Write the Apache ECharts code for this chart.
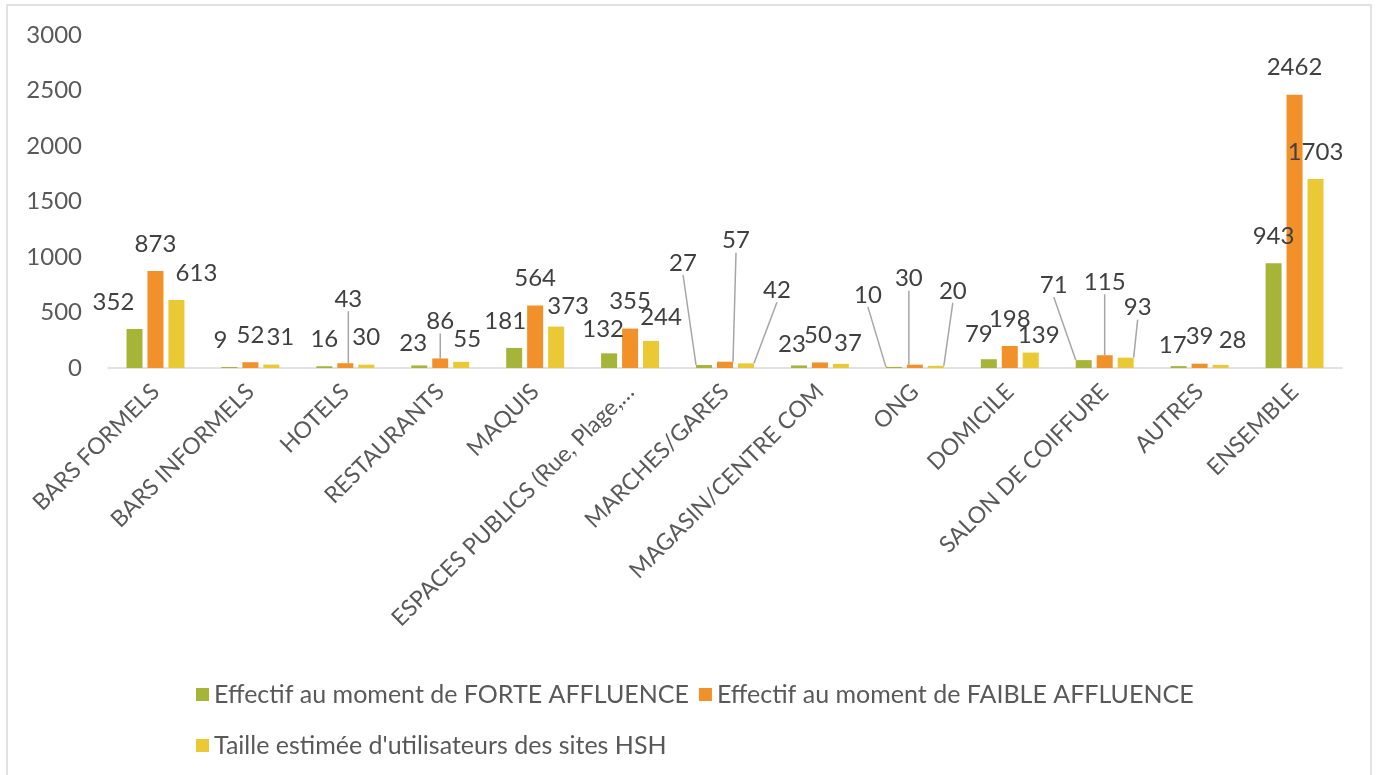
<!DOCTYPE html>
<html>
<head>
<meta charset="utf-8">
<title>Effectifs par site</title>
<script src="https://cdn.jsdelivr.net/npm/echarts@6/dist/echarts.min.js"></script>
<style>
  html, body { margin: 0; padding: 0; background: #fff; }
  #chart { width: 1380px; height: 775px; }
</style>
</head>
<body>
<div id="chart"></div>
<script>
// categories (x axis)
const categories = [
  'BARS FORMELS', 'BARS INFORMELS', 'HOTELS', 'RESTAURANTS', 'MAQUIS',
  'ESPACES PUBLICS (Rue, Plage,…', 'MARCHES/GARES', 'MAGASIN/CENTRE COM',
  'ONG', 'DOMICILE', 'SALON DE COIFFURE', 'AUTRES', 'ENSEMBLE'
]
const seriesNames = [
  'Effectif au moment de FORTE AFFLUENCE',
  'Effectif au moment de FAIBLE AFFLUENCE',
  "Taille estimée d'utilisateurs des sites HSH"
]
const forteData = [352, 9, 16, 23, 181, 132, 27, 23, 10, 79, 71, 17, 943]
const faibleData = [873, 52, 43, 86, 564, 355, 57, 50, 30, 198, 115, 39, 2462]
const tailleData = [613, 31, 30, 55, 373, 244, 42, 37, 20, 139, 93, 28, 1703]
// y axis ticks
const yMin = 0
const yMax = 3000
const yStep = 500

// label nudges (px) copied from the excel layout, some with leader lines
const forteShift = [[-21,0],[-9,0],[0,0],[-6,5],[-9,0],[-6,3],[-21,-75],[-7,6],[-26,-45],[-10,2],[-30,-48],[-6,6],[0,0]]
const faibleShift = [[0,0],[0,0],[3,-37],[0,-10],[0,0],[0,0],[11,-94],[-2,0],[-6,-59],[0,0],[0,-46],[0,0],[0,0]]
const tailleShift = [[20,0],[9,0],[0,0],[6,4],[12,7],[10,3],[31,-46],[7,6],[17,-48],[8,10],[12,-23],[12,2],[0,0]]
const shifts = [forteShift, faibleShift, tailleShift]

const colors = ['#A6B437', '#F2912A', '#EBC934']
const font = 'Lato'

const chart = echarts.init(document.getElementById('chart'))

function buildData (values, shift) {
  return values.map((v, i) => {
    return {
      value: v,
      labelLine: { show: shift[i][1] <= -10 } // 引导线
    }
  })
}

const seriesArr = [forteData, faibleData, tailleData].map((values, idx) => {
  return {
    name: seriesNames[idx],
    type: 'bar',
    barWidth: 16,
    barGap: '31%',
    itemStyle: { color: colors[idx] },
    data: buildData(values, shifts[idx]),
    label: {
      show: true,
      position: 'top',
      distance: 15,
      color: '#404040',
      fontFamily: font,
      fontSize: 24
    },
    labelLine: {
      show: false,
      lineStyle: { color: '#a6a6a6', width: 1.5 }
    },
    labelLayout: function (params) {
      const s = shifts[params.seriesIndex][params.dataIndex]
      return { dx: s[0], dy: s[1] }
    }
  }
})

const legendText = { color: '#595959', fontFamily: font, fontSize: 25 }

const option = {
  backgroundColor: '#fff',
  animation: false,
  graphic: [{
    type: 'rect',
    shape: { x: 7, y: 5, width: 1364, height: 820 },
    style: { fill: null, stroke: '#d9d9d9', lineWidth: 1.5 },
    silent: true,
    z: -1
  }],
  grid: {
    left: 108,
    right: 38,
    top: 35,
    bottom: 407
  },
  legend: [
    {
      data: [seriesNames[0], seriesNames[1]],
      left: 191,
      top: 677,
      icon: 'rect',
      itemWidth: 13,
      itemHeight: 13,
      itemGap: 10,
      textStyle: legendText
    },
    {
      data: [seriesNames[2]],
      left: 191,
      top: 728,
      icon: 'rect',
      itemWidth: 13,
      itemHeight: 13,
      textStyle: legendText
    }
  ],
  xAxis: {
    type: 'category',
    data: categories,
    axisLine: { lineStyle: { color: '#d9d9d9', width: 1.5 } },
    axisTick: { show: false },
    axisLabel: {
      interval: 0,
      rotate: 45,
      margin: 20,
      color: '#595959',
      fontFamily: font,
      fontSize: 23
    }
  },
  yAxis: {
    type: 'value',
    min: yMin,
    max: yMax,
    interval: yStep,
    axisLine: { show: false },
    axisTick: { show: false },
    splitLine: { show: false },
    axisLabel: {
      margin: 26,
      color: '#595959',
      fontFamily: font,
      fontSize: 24,
      formatter: v => String(v)
    }
  },
  series: seriesArr
}

chart.setOption(option)
</script>
</body>
</html>
